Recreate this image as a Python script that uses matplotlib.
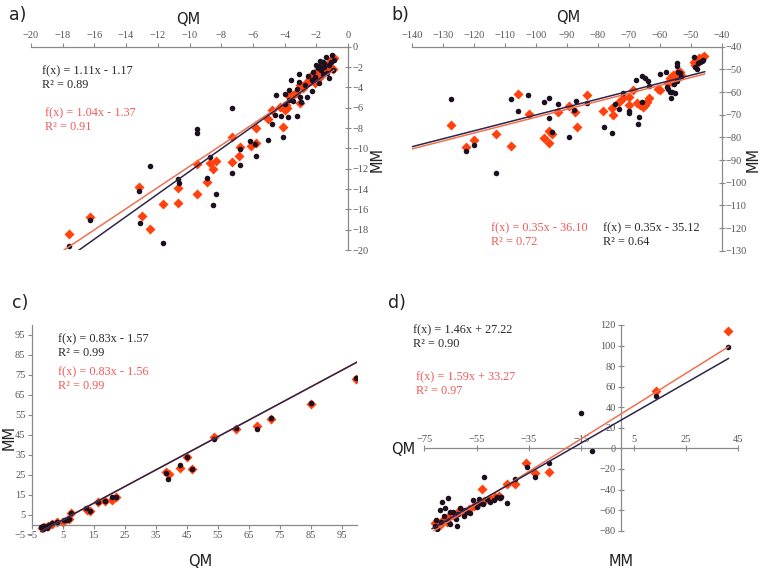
import matplotlib
matplotlib.use("Agg")
import matplotlib.pyplot as plt

# ---- data ----
# panel a
a_black_qm = [-17.6, -16.3, -13.2, -13.1, -12.5, -11.7, -10.7, -10.65, -9.55, -9.55, -8.9, -8.7, -8.5, -8.3,
              -7.3, -7.35, -6.8, -6.8, -6.2, -5.85, -5.8, -5.05, -4.8, -4.6, -4.55, -4.1, -4.2, -4.0, -3.98,
              -3.8, -3.75, -3.7, -3.6, -3.5, -3.2, -3.1, -3.1, -3.2, -3.0, -2.95, -2.7, -2.6, -2.3, -2.3, -2.2,
              -2.1, -2.0, -1.9, -1.8, -1.75, -1.6, -1.5, -1.5, -1.4, -1.3, -1.2, -1.2, -1.0, -0.9, -0.95,
              -1.7, -1.6, -2.5, -1.85, -1.1]
a_black_mm = [-19.6, -17.0, -14.2, -17.3, -11.7, -19.3, -13.0, -13.4, -8.1, -8.5, -12.95, -10.9, -15.6, -14.5,
              -6.0, -12.4, -10.1, -11.6, -9.3, -9.6, -10.75, -9.2, -7.6, -6.7, -4.75, -8.9, -6.8, -5.65, -4.65,
              -6.9, -5.2, -4.25, -3.3, -5.3, -6.8, -2.7, -3.5, -4.2, -4.9, -5.4, -3.8, -4.9, -4.4, -3.3, -2.5,
              -2.95, -1.8, -2.1, -3.6, -1.4, -1.5, -1.65, -2.0, -1.0, -2.6, -1.8, -3.1, -0.8, -1.3, -2.3,
              -2.3, -2.7, -2.9, -1.9, -1.5]
a_orange_qm = [-17.6, -16.3, -13.2, -13.0, -12.5, -11.7, -10.7, -10.7, -9.55, -9.55, -8.9, -8.7, -8.5, -8.3,
               -7.3, -7.35, -6.8, -6.85, -6.15, -5.8, -5.8, -5.05, -4.77, -4.1, -4.3, -4.0, -3.93, -3.85, -3.8,
               -3.45, -3.26, -3.05, -3.05, -2.85, -2.63, -2.5, -2.3, -2.2, -2.1, -2.0, -1.8, -1.7, -1.5, -1.25,
               -1.05, -0.95, -0.9, -1.4, -2.4, -1.6]
a_orange_mm = [-18.4, -16.8, -13.85, -16.65, -17.95, -15.5, -13.9, -15.4, -11.55, -14.5, -13.3, -11.4, -12.0, -11.2,
               -8.85, -11.3, -9.85, -10.8, -9.75, -8.0, -9.5, -7.15, -6.2, -7.9, -5.9, -6.25, -5.7, -6.0, -4.75,
               -4.75, -4.6, -5.57, -3.8, -4.1, -3.6, -3.45, -2.8, -2.95, -3.6, -2.45, -3.1, -2.1, -2.6, -1.8,
               -1.3, -2.15, -1.15, -2.2, -3.2, -1.7]

# panel b
b_black_qm = [-127.3, -122.5, -120.1, -112.8, -108.1, -105.9, -102.4, -97.3, -95.7, -95.7, -94.9, -92.9, -89.2,
              -87.0, -87.7, -83.4, -78.0, -75.5, -74.5, -73.0, -71.8, -69.8, -69.8, -67.7, -66.8, -66.9, -65.8,
              -64.8, -63.7, -63.4, -65.8, -59.9, -58.0, -57.6, -57.2, -56.7, -56.0, -55.1, -56.4, -54.5, -54.3,
              -54.0, -53.5, -53.0, -55.5, -54.5, -48.9, -48.6, -48.1, -47.6, -47.0, -46.5, -45.9]
b_black_mm = [-63.1, -86.0, -83.4, -95.6, -63.1, -68.2, -61.2, -64.6, -62.6, -71.5, -77.5, -65.3, -80.0,
              -63.8, -67.9, -65.0, -75.3, -77.9, -65.3, -67.6, -60.6, -68.2, -69.4, -54.7, -71.1, -74.1, -52.9,
              -53.7, -55.0, -57.3, -64.3, -52.0, -51.3, -57.6, -58.5, -59.8, -60.2, -60.6, -62.8, -47.3, -48.5,
              -51.0, -51.7, -53.5, -56.5, -55.0, -44.4, -48.8, -50.0, -47.3, -46.6, -46.2, -45.9]
b_orange_qm = [-127.3, -122.5, -119.9, -112.8, -108.1, -105.9, -102.3, -97.3, -95.7, -95.7, -94.9, -92.8, -89.4,
               -87.4, -86.8, -83.4, -78.2, -75.5, -75.2, -73.0, -71.8, -69.9, -69.8, -68.5, -67.2, -66.4, -65.5,
               -64.8, -64.0, -63.4, -60.5, -59.8, -57.2, -56.7, -56.2, -55.6, -55.0, -54.5, -54.0, -53.5, -53.0,
               -48.9, -48.6, -47.8, -47.2, -46.5, -45.7]
b_orange_mm = [-74.6, -84.4, -81.2, -78.7, -83.7, -60.9, -69.6, -80.4, -77.1, -82.4, -78.7, -68.7, -66.2,
               -69.0, -75.6, -61.3, -68.4, -67.2, -70.1, -64.5, -62.8, -62.1, -65.7, -59.1, -65.0, -65.7, -66.5,
               -65.7, -64.2, -62.8, -58.8, -59.2, -56.1, -53.9, -55.5, -52.5, -54.5, -51.8, -53.5, -51.0, -52.3,
               -46.6, -48.0, -45.8, -45.2, -44.8, -44.1]

# panel c
c_black_qm = [99.8, 85.1, 72.4, 67.8, 61.1, 54.0, 46.9, 45.2, 43.0, 38.5, 39.1, 22.2, 20.8, 18.7, 16.3, 13.8,
              12.5, 7.6, 7.2, 6.3, 5.4, 3.1, 1.5, 0.5, -0.2, -0.8, -1.5, -1.9, 0.0, -1.2]
c_black_mm = [73.7, 60.8, 53.3, 47.8, 48.3, 43.0, 27.8, 34.2, 30.0, 25.8, 22.8, 13.8, 14.2, 12.0, 11.7, 7.2,
              8.3, 6.2, 2.8, 2.5, 2.5, 1.7, 0.8, 0.0, -0.6, -1.2, -1.8, -1.2, -1.5, -0.5]
c_orange_qm = [99.8, 85.1, 72.4, 67.8, 61.1, 54.0, 46.9, 45.2, 43.0, 38.3, 39.3, 22.2, 20.8, 18.7, 16.3, 13.8,
               12.7, 7.6, 7.2, 5.2, 3.1, 1.5, 0.3, -1.0, -1.7]
c_orange_mm = [73.2, 60.5, 53.0, 49.5, 48.0, 44.2, 27.9, 33.8, 28.6, 26.7, 25.3, 13.9, 12.5, 12.2, 11.4, 7.0,
               7.5, 5.8, 3.0, 1.7, 1.5, 0.6, -0.3, -1.0, -1.6]

# panel d
d_black_mm = [41.2, 13.5, -15.0, -10.9, -27.5, -32.8, -35.9, -40.4, -43.3, -52.2, -65.8, -68.4, -70.0, -62.4,
              -69.0, -67.1, -65.2, -61.4, -58.8, -56.3, -53.7, -49.9, -47.4, -46.1, -51.0, -55.0, -57.5, -60.0,
              -63.0, -66.0, -68.5, -70.5, -71.0, -64.0, -62.0, -54.0, -48.5, -45.5, -52.5, -59.5, -67.5, -65.0]
d_black_qm = [98.3, 51.0, 34.1, -2.9, -14.5, -28.1, -18.4, -30.1, -53.4, -27.5, -48.6, -52.4, -78.7, -75.5,
              -59.9, -58.3, -61.5, -58.3, -61.5, -50.2, -53.4, -51.8, -46.9, -48.6, -49.5, -57.0, -63.0, -66.0,
              -68.5, -71.0, -72.0, -70.0, -75.0, -62.0, -64.0, -49.0, -50.0, -47.0, -54.5, -60.0, -65.5, -73.5]
d_orange_mm = [41.2, 13.5, -27.5, -32.8, -36.1, -40.4, -43.3, -53.1, -70.3, -68.0, -66.0, -64.0, -62.0, -60.0,
               -58.0, -56.0, -54.0, -52.0, -50.0, -48.0, -46.5, -69.0, -66.5, -61.0, -70.9]
d_orange_qm = [114.5, 56.1, -22.6, -24.2, -14.5, -34.6, -34.6, -39.8, -71.6, -70.0, -67.0, -64.5, -62.0, -62.5,
               -59.0, -56.0, -53.0, -51.0, -49.0, -47.0, -46.0, -74.0, -72.0, -60.0, -72.2]

# trend line coefficients (slope, intercept) and x spans
fits = {
    'a': [(1.11, -1.17, -20, -0.9), (1.04, -1.37, -20, -0.9)],
    'b': [(0.35, -35.12, -140, -45.5), (0.35, -36.10, -140, -45.5)],
    'c': [(0.83, -1.57, -2, 100), (0.83, -1.56, -2, 100)],
    'd': [(1.46, 27.22, -72, 41.2), (1.59, 33.27, -72, 41.2)],
}

BLACK = '#1c0f1f'
ORANGE = '#ff420e'
LINE_DARK = '#2f2548'
LINE_ORANGE = '#f07050'
TXT_DARK = '#2a2a2a'
TXT_RED = '#f25a5a'
SPINE = '#8a8a8a'
TICK_TXT = '#555555'

W, H = 763, 581
fig = plt.figure(figsize=(W / 100, H / 100), dpi=100)


def make_axes(x0, x1, ytop, ybot):
    # pixel box -> figure fraction
    return fig.add_axes([x0 / W, 1 - ybot / H, (x1 - x0) / W, (ybot - ytop) / H])


def style(ax):
    for s in ax.spines.values():
        s.set_color(SPINE)
        s.set_linewidth(0.9)
    ax.tick_params(colors=SPINE, labelcolor=TICK_TXT, labelsize=7.5, length=3, width=0.8, pad=1.5)
    for lab in ax.get_xticklabels() + ax.get_yticklabels():
        lab.set_family('Liberation Serif')
    ax.set_facecolor('none')


def scatter_pair(ax, bx, by, ox, oy, key):
    ax.scatter(ox, oy, s=26, marker='D', color=ORANGE, linewidths=0, zorder=2)
    ax.scatter(bx, by, s=16, marker='o', color=BLACK, linewidths=0, zorder=3)
    (m1, k1, lo1, hi1), (m2, k2, lo2, hi2) = fits[key]
    ax.plot([lo2, hi2], [m2 * lo2 + k2, m2 * hi2 + k2], color=LINE_ORANGE, lw=1.1, zorder=4)
    ax.plot([lo1, hi1], [m1 * lo1 + k1, m1 * hi1 + k1], color=LINE_DARK, lw=1.1, zorder=4)


def eq(x, y, line1, line2, color):
    fig.text(x / W, 1 - y / H, line1, color=color, fontsize=8.8, family='Liberation Serif', va='center')
    fig.text(x / W, 1 - (y + 14) / H, line2, color=color, fontsize=8.8, family='Liberation Serif', va='center')


def lbl(x, y, s, rot=0, size=10.5):
    fig.text(x / W, 1 - y / H, s, fontsize=size, family='DejaVu Sans', color='#222222',
             ha='center', va='center', rotation=rot)


# ---- a) ----
ax = make_axes(31, 348, 46.7, 250)
scatter_pair(ax, a_black_qm, a_black_mm, a_orange_qm, a_orange_mm, 'a')
ax.set_xlim(-20, 0)
ax.set_ylim(-20, 0)
ax.set_xticks(range(-20, 1, 2))
ax.set_yticks(range(-20, 1, 2))
ax.xaxis.tick_top()
ax.yaxis.tick_right()
ax.spines['bottom'].set_visible(False)
ax.spines['left'].set_visible(False)
style(ax)
ax.tick_params(axis='y', direction='inout', length=4, pad=1)
lbl(18, 15, 'a)', size=12.5)
lbl(188, 19, 'QM')
lbl(377, 160, 'MM', rot=90)
eq(42, 71, 'f(x) = 1.11x - 1.17', 'R² = 0.89', TXT_DARK)
eq(45, 113, 'f(x) = 1.04x - 1.37', 'R² = 0.91', TXT_RED)

# ---- b) ----
ax = make_axes(412, 721.7, 46.7, 250.7)
scatter_pair(ax, b_black_qm, b_black_mm, b_orange_qm, b_orange_mm, 'b')
ax.set_xlim(-140, -40)
ax.set_ylim(-130, -40)
ax.set_xticks(range(-140, -39, 10))
ax.set_yticks(range(-130, -39, 10))
ax.xaxis.tick_top()
ax.yaxis.tick_right()
ax.spines['bottom'].set_visible(False)
ax.spines['left'].set_visible(False)
style(ax)
ax.tick_params(axis='y', direction='inout', length=4, pad=1)
lbl(400, 15, 'b)', size=12.5)
lbl(568, 18, 'QM')
lbl(753, 160, 'MM', rot=90)
eq(491, 228, 'f(x) = 0.35x - 36.10', 'R² = 0.72', TXT_RED)
eq(603, 228, 'f(x) = 0.35x - 35.12', 'R² = 0.64', TXT_DARK)

# ---- c) ----
ax = make_axes(31.7, 357, 325, 535)
scatter_pair(ax, c_black_qm, c_black_mm, c_orange_qm, c_orange_mm, 'c')
ax.set_xlim(-5, 100)
ax.set_ylim(-5, 100)
ax.set_xticks(range(-5, 100, 10))
ax.set_yticks(range(-5, 100, 10))
ax.spines['bottom'].set_position(('data', 0))
ax.spines['top'].set_visible(False)
ax.spines['right'].set_visible(False)
ax.spines['left'].set_bounds(0, 100)
style(ax)
lbl(20, 303, 'c)', size=12.5)
lbl(9, 437, 'MM', rot=90)
lbl(200, 562, 'QM')
eq(58, 339, 'f(x) = 0.83x - 1.57', 'R² = 0.99', TXT_DARK)
eq(58, 372, 'f(x) = 0.83x - 1.56', 'R² = 0.99', TXT_RED)

# ---- d) ----
ax = make_axes(424.3, 738.3, 325, 530.7)
scatter_pair(ax, d_black_mm, d_black_qm, d_orange_mm, d_orange_qm, 'd')
ax.set_xlim(-75, 45)
ax.set_ylim(-80, 120)
ax.set_xticks(range(-75, 46, 20))
ax.set_yticks(range(-80, 121, 20))
ax.xaxis.tick_top()
ax.spines['top'].set_position(('data', 0))
ax.spines['left'].set_position(('data', 0))
ax.spines['bottom'].set_visible(False)
ax.spines['right'].set_visible(False)
style(ax)
ax.tick_params(direction='inout', length=4)
lbl(397, 303, 'd)', size=12.5)
lbl(403, 449, 'QM')
lbl(621, 562, 'MM')
eq(413, 330, 'f(x) = 1.46x + 27.22', 'R² = 0.90', TXT_DARK)
eq(416, 377, 'f(x) = 1.59x + 33.27', 'R² = 0.97', TXT_RED)

fig.savefig('out.png', dpi=100)
